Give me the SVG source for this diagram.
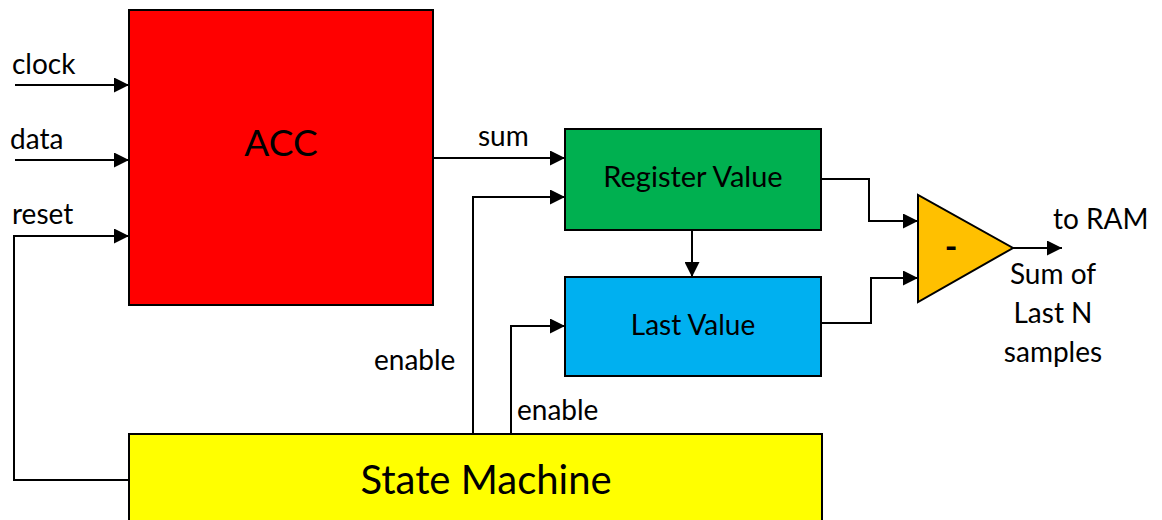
<svg xmlns="http://www.w3.org/2000/svg" width="1162" height="520" viewBox="0 0 1162 520">
  <defs>
    <marker id="arrow" viewBox="0 0 10 10" refX="10" refY="5" markerWidth="16" markerHeight="15" markerUnits="userSpaceOnUse" orient="auto">
      <path d="M0,0 L10,5 L0,10 z" fill="#000"/>
    </marker>
    <style>
      .blk { stroke: #000; stroke-width: 2; }
      .wire { fill: none; stroke: #000; stroke-width: 2; }
      .arr { marker-end: url(#arrow); }
      text { font-family: Lato, "Liberation Sans", sans-serif; fill: #000; }
      .lbl { font-size: 28px; }
      .big { font-size: 37px; text-anchor: middle; }
      .mid { font-size: 28px; text-anchor: middle; }
    </style>
  </defs>
  <rect width="1162" height="520" fill="#fff"/>

  <g id="connectors">
    <line class="wire arr" x1="15" y1="85" x2="129" y2="85"/>
    <line class="wire arr" x1="15" y1="160" x2="129" y2="160"/>
    <polyline class="wire arr" points="129,480 14,480 14,236 129,236"/>
    <line class="wire arr" x1="433" y1="158" x2="565" y2="158"/>
    <polyline class="wire arr" points="473,434 473,197 565,197"/>
    <polyline class="wire arr" points="511,434 511,326 565,326"/>
    <line class="wire arr" x1="692" y1="230" x2="692" y2="277"/>
    <polyline class="wire arr" points="821,179 869,179 869,221 918,221"/>
    <polyline class="wire arr" points="821,323 871,323 871,278 918,278"/>
    <line class="wire arr" x1="1013" y1="248" x2="1062" y2="248"/>
  </g>

  <g id="acc">
    <rect class="blk" x="129" y="10" width="304" height="295" fill="#ff0000"/>
    <text class="big" x="281" y="156">ACC</text>
  </g>

  <g id="register-value">
    <rect class="blk" x="565" y="129" width="256" height="101" fill="#00b050"/>
    <text class="mid" x="693" y="187" style="font-size:29px">Register Value</text>
  </g>

  <g id="last-value">
    <rect class="blk" x="565" y="277" width="256" height="99" fill="#00b0f0"/>
    <text class="mid" x="693" y="335">Last Value</text>
  </g>

  <g id="state-machine">
    <rect class="blk" x="129" y="434" width="693" height="100" fill="#ffff00"/>
    <text class="big" x="486" y="494" style="font-size:40px">State Machine</text>
  </g>

  <g id="subtractor">
    <polygon class="blk" points="918,195 918,302 1013,248" fill="#ffc000"/>
    <text class="mid" x="951" y="259" style="font-weight:bold;font-size:34px">-</text>
  </g>

  <g id="labels">
    <text class="lbl" x="12" y="74">clock</text>
    <text class="lbl" x="10" y="149">data</text>
    <text class="lbl" x="12" y="224">reset</text>
    <text class="lbl" x="478" y="146">sum</text>
    <text class="lbl" x="374" y="370">enable</text>
    <text class="lbl" x="517" y="420">enable</text>
    <text class="lbl" x="1053" y="229">to RAM</text>
    <text class="mid" x="1053" y="284">Sum of</text>
    <text class="mid" x="1053" y="323">Last N</text>
    <text class="mid" x="1053" y="362">samples</text>
  </g>
</svg>
